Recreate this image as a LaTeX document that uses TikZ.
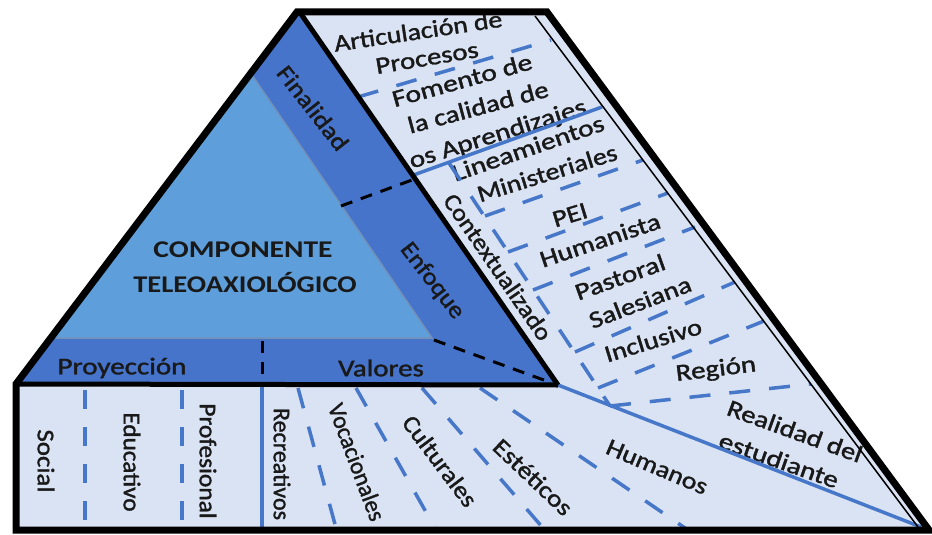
\documentclass[tikz,border=0pt]{standalone}
\usepackage{fontspec}
\setmainfont{Carlito}[UprightFeatures={FakeBold=1.4}]
\definecolor{lightbg}{HTML}{DAE3F3}
\definecolor{darkband}{HTML}{4674CB}
\definecolor{lighttri}{HTML}{5E9FDB}
\definecolor{triedge}{HTML}{7390B8}
\definecolor{lineblue}{HTML}{4677C8}
\begin{document}
\begin{tikzpicture}[x=1pt,y=-1pt,line join=miter,
  lbl/.style={font=\fontsize{24}{28}\selectfont, inner sep=0pt, text=black!90},
  bold lbl/.style={font=\fontsize{24}{28}\selectfont\bfseries, inner sep=0pt, text=black!90},
  bline/.style={draw=lineblue, line width=3.5pt},
  bdash/.style={bline, dash pattern=on 21pt off 19pt},
  kdash/.style={draw=black, line width=3pt, dash pattern=on 12pt off 9pt}]
\useasboundingbox (0,0) rectangle (932,535);
% geometry
\coordinate (BL) at (16,530);
\coordinate (L) at (16,384);
\coordinate (T1) at (297,12);
\coordinate (T2) at (547,12);
\coordinate (BR) at (929,530);
\coordinate (Ti) at (301,14);
\coordinate (V) at (558,385);
\coordinate (LT1) at (48,338);
\coordinate (LT2) at (250,72);
\coordinate (LT3) at (432,338);
\coordinate (R1) at (535,16);
\coordinate (R2) at (918,527);
% right region lines
\coordinate (A1) at (358,97);  \coordinate (A2) at (551,40);
\coordinate (B1) at (408,177); \coordinate (B2) at (602,107);
\coordinate (C0) at (449,163); \coordinate (C9) at (610,406);
\coordinate (C1a) at (485,216); \coordinate (C1b) at (643,160);
\coordinate (C2a) at (508,252); \coordinate (C2b) at (668,193);
\coordinate (C3a) at (533,290); \coordinate (C3b) at (695,227);
\coordinate (C4a) at (575,352); \coordinate (C4b) at (735,282);
\coordinate (C5a) at (598,388); \coordinate (C5b) at (764,321);
\coordinate (C6b) at (811,384);
\coordinate (Dend) at (921,527);
% bottom lines
\coordinate (P1a) at (85,390);  \coordinate (P1b) at (85,528);
\coordinate (P2a) at (182,390); \coordinate (P2b) at (182,528);
\coordinate (S1a) at (262,387); \coordinate (S1b) at (262,528);
\coordinate (Q1a) at (298,388); \coordinate (Q1b) at (336,528);
\coordinate (Q2a) at (356,388); \coordinate (Q2b) at (435,528);
\coordinate (Q3a) at (422,388); \coordinate (Q3b) at (543,528);
\coordinate (Q4a) at (480,388); \coordinate (Q4b) at (685,528);
% black dashed
\coordinate (K1a) at (262,341); \coordinate (K1b) at (262,382);
\coordinate (K2a) at (341,206); \coordinate (K2b) at (412,180);
\coordinate (K3a) at (434,340); \coordinate (K3b) at (552,383);

% background
\fill[lightbg] (BL) -- (L) -- (T1) -- (T2) -- (BR) -- cycle;

% right region texts
\node[lbl, rotate=8.5, xscale=1.16] (artic) at (418,31) {Articulación de};
\node[lbl, rotate=9.5, xscale=1.2] (proc) at (427,58) {Procesos};
\node[lbl, rotate=15.5, xscale=1.23] (fom) at (462,80) {Fomento de};
\node[lbl, rotate=15, xscale=1.19] (cal) at (478,107) {la calidad de};
\node[lbl, rotate=17.5, xscale=1.21] (apr) at (498,135) {os Aprendizajes};
\node[lbl, rotate=19, xscale=1.22] (lin) at (528,148) {Lineamientos};
\node[lbl, rotate=17.3, xscale=1.16] (min) at (547,173) {Ministeriales};
\node[lbl, rotate=17, xscale=1.17] (pei) at (570,215) {PEI};
\node[lbl, rotate=18.6, xscale=1.2] (hum) at (600,240) {Humanista};
\node[lbl, rotate=19.7, xscale=1.21] (pas) at (620,277) {Pastoral};
\node[lbl, rotate=21, xscale=1.19] (sal) at (640,302) {Salesiana};
\node[lbl, rotate=17, xscale=1.18] (inc) at (653,340) {Inclusivo};
\node[lbl, rotate=7, xscale=1.21] (reg) at (716,370) {Región};
\node[lbl, rotate=-20, xscale=1.19] (real) at (795,431) {Realidad del};
\node[lbl, rotate=-19.4, xscale=1.21] (estu) at (779,460) {estudiante};
\node[lbl, rotate=-23, xscale=1.16] (humn) at (657,467) {Humanos};
\node[lbl, rotate=-55.4, xscale=1.1] (ctx) at (498,267) {Contextualizado};

% bottom texts
\node[lbl, rotate=-90, xscale=1.12] (soc) at (46,461) {Social};
\node[lbl, rotate=-90, xscale=1.05] (edu) at (132,462) {Educativo};
\node[lbl, rotate=-90, xscale=1.06] (pro) at (208,461) {Profesional};
\node[lbl, rotate=-90, xscale=1.0] (rec) at (282,464) {Recreativos};
\node[lbl, rotate=-69.5, xscale=0.98] (voc) at (357,462) {Vocacionales};
\node[lbl, rotate=-53, xscale=1.1] (cul) at (440,461) {Culturales};
\node[lbl, rotate=-43.5, xscale=1.16] (est) at (533,477) {Estéticos};

% triangles
\fill[darkband] (L) -- (T1) -- (Ti) -- (V) -- cycle;
\filldraw[fill=lighttri, draw=triedge, line width=1.5pt] (LT1) -- (LT2) -- (LT3) -- cycle;

% blue lines
\draw[bdash] (A1) -- (A2);
\draw[bline] (B1) -- (B2);
\draw[bdash] (C0) -- (C9);
\draw[bdash] (C1a) -- (C1b);
\draw[bdash] (C2a) -- (C2b);
\draw[bdash] (C3a) -- (C3b);
\draw[bdash] (C4a) -- (C4b);
\draw[bdash] (C5a) -- (C5b);
\draw[bdash] (C9) -- (C6b);
\draw[bline] (V) -- (Dend);
\draw[bdash, dash pattern=on 19pt off 18pt] (P1a) -- (P1b);
\draw[bdash, dash pattern=on 19pt off 18pt] (P2a) -- (P2b);
\draw[bline] (S1a) -- (S1b);
\draw[bdash] (Q1a) -- (Q1b);
\draw[bdash] (Q2a) -- (Q2b);
\draw[bdash] (Q3a) -- (Q3b);
\draw[bdash] (Q4a) -- (Q4b);

% black dashed
\draw[kdash] (K1a) -- (K1b);
\draw[kdash] (K2a) -- (K2b);
\draw[kdash] (K3a) -- (K3b);

% black lines
\draw[line width=5pt] (Ti) -- (V);
\draw[line width=5pt] (L) -- (V);
\draw[line width=1.5pt] (R1) -- (R2);
\draw[line width=7pt] (BL) -- (L) -- (T1) -- (T2) -- (BR) -- cycle;

% texts in blue band
\node[lbl, rotate=-52, xscale=1.14] (fin) at (313,108) {Finalidad};
\node[lbl, rotate=-52.3, xscale=1.11] (enf) at (432,281) {Enfoque};
\node[lbl, xscale=1.21] (proy) at (122,368) {Proyección};
\node[lbl, xscale=1.2] (val) at (381,368) {Valores};
\node[bold lbl, xscale=1.23] (comp) at (243,250) {COMPONENTE};
\node[bold lbl, xscale=1.19] (teleo) at (245,283) {TELEOAXIOLÓGICO};
\end{tikzpicture}
\end{document}
